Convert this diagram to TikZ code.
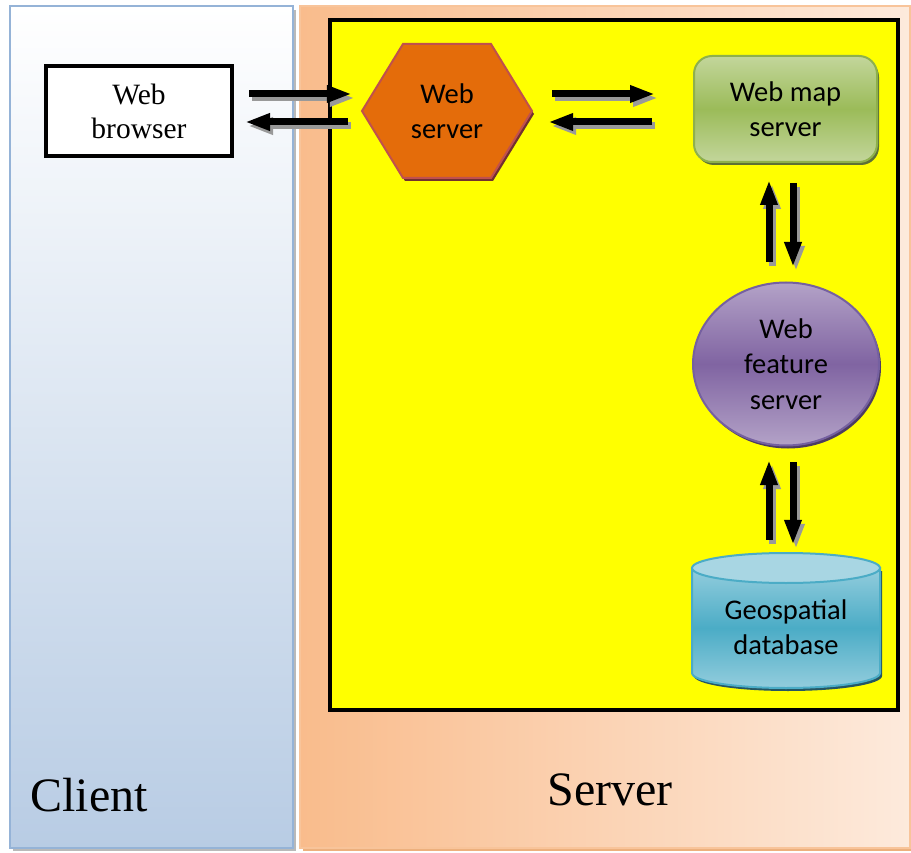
\documentclass[tikz,border=0pt]{standalone}
\usepackage{fontspec}
\setmainfont{Liberation Serif}
\newfontfamily\calib{Carlito}
\usetikzlibrary{arrows.meta,shapes.geometric,shadows,calc}
\definecolor{clientblue}{HTML}{B8CCE4}
\definecolor{clientborder}{HTML}{95B3D7}
\definecolor{servorange}{HTML}{F9BC8C}
\definecolor{servlight}{HTML}{FDEADC}
\definecolor{servborder}{HTML}{F8C49A}
\definecolor{hexfill}{HTML}{E46C0A}
\definecolor{hexborder}{HTML}{C0504D}
\definecolor{greenlight}{HTML}{C3D69B}
\definecolor{greenmid}{HTML}{9BBB59}
\definecolor{greenborder}{HTML}{8EB04C}
\definecolor{purplelight}{HTML}{B3A2C7}
\definecolor{purplemid}{HTML}{8064A2}
\definecolor{purpleborder}{HTML}{7560A0}
\definecolor{bluelight}{HTML}{93CDDD}
\definecolor{bluemid}{HTML}{4BACC6}
\definecolor{bluetop}{HTML}{A8D6E3}
\definecolor{pureyellow}{RGB}{255,255,0}
\newcommand\twinarrow[2]{\draw[arrshadow] #1 -- #2; \draw[arr] #1 -- #2;}
\begin{document}
\begin{tikzpicture}[x=1pt,y=-1pt,
  arr/.style={line width=7pt,-{Triangle[length=25pt,width=16pt]}},
  arrshadow/.style={arr,draw=gray!80,transform canvas={xshift=3pt,yshift=-4pt}},
  sanstext/.style={font=\calib\fontsize{28.5}{35.5}\selectfont,align=center},
  shd/.style={drop shadow={shadow xshift=2pt,shadow yshift=-3pt,fill=#1,opacity=1}},
]
\useasboundingbox (0,0) rectangle (911,853);
% panels
\fill[gray!55] (13,10) rectangle (296,851);
\draw[draw=clientborder,line width=2pt,top color=white,bottom color=clientblue] (10,6) rectangle (293,848);
\fill[servorange!80!brown] (303,10) rectangle (913,851);
\draw[draw=servborder,line width=2pt,left color=servorange,right color=servlight] (300,6) rectangle (910,848);
\draw[line width=4.5pt,fill=pureyellow] (330,20) rectangle (898,710);
\node (client) at (89,795) {\fontsize{48}{56}\selectfont Client};
\node (server) at (610,790) {\fontsize{48}{56}\selectfont Server};
% web browser
\node[draw,line width=4pt,fill=white,minimum width=186pt,minimum height=90pt,align=center,
  font=\fontsize{29.5}{34}\selectfont] (wb) at (139,111) {Web\\browser};
% web server hexagon
\begin{scope}[shift={(447,111)}]
\draw[line width=2pt,draw=hexborder,fill=hexfill,shd=hexborder!60!black]
  (-85,0) -- (-44,-67) -- (44,-67) -- (85,0) -- (44,67) -- (-44,67) -- cycle;
\end{scope}
\node[sanstext,minimum width=170pt,minimum height=134pt] (ws) at (447,111) {Web\\server};
% web map server
\node[sanstext,draw=greenborder,line width=2pt,rounded corners=18pt,minimum width=183pt,minimum height=106pt,
  top color=greenlight,bottom color=greenlight,middle color=greenmid,shd=greenmid!60!black] (wms) at (785.5,109) {Web map\\server};
% web feature server
\node[sanstext,ellipse,draw=purpleborder,line width=2pt,minimum width=186pt,minimum height=163pt,inner sep=0pt,
  top color=purplelight,bottom color=purplelight,middle color=purplemid,shd=purplemid!60!black] (wfs) at (786,364) {Web\\feature\\server};
% geospatial database cylinder
\draw[draw=bluemid,line width=2pt,top color=bluelight,bottom color=bluelight,middle color=bluemid,shd=bluemid!50!black]
  (692,568) -- (692,673) arc[start angle=180,end angle=0,x radius=94,y radius=15] -- (880,568) -- cycle;
\draw[draw=bluemid,line width=2pt,fill=bluetop] (786,568) ellipse[x radius=94,y radius=15];
\node[minimum width=188pt,minimum height=135pt] (db) at (786,620.5) {};
\node[sanstext] (dbtext) at (786,627) {Geospatial\\database};
% arrows
\twinarrow{([shift={(15,-17)}]wb.east)}{([shift={(-10,-17)}]ws.west)}
\twinarrow{([shift={(-14,11)}]ws.west)}{([shift={(11,11)}]wb.east)}
\twinarrow{([shift={(20,-17)}]ws.east)}{([shift={(-38,-15)}]wms.west)}
\twinarrow{([shift={(-41,13)}]wms.west)}{([shift={(16,11)}]ws.east)}
\twinarrow{([shift={(-17,-19.5)}]wfs.north)}{([shift={(-16.5,17)}]wms.south)}
\twinarrow{([shift={(7.5,20)}]wms.south)}{([shift={(7,-14.5)}]wfs.north)}
\twinarrow{([shift={(-17,-13)}]db.north)}{([shift={(-17,13.5)}]wfs.south)}
\twinarrow{([shift={(7,15.5)}]wfs.south)}{([shift={(7,-8)}]db.north)}
\end{tikzpicture}
\end{document}
